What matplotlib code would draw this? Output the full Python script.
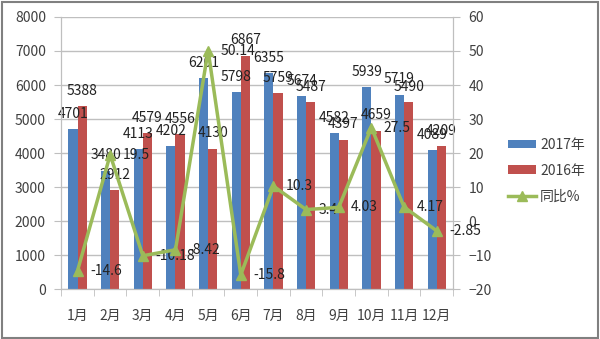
"""
plot.py - 2017 vs 2016 monthly figures with year-on-year change line.
"""
import numpy as np
import matplotlib
matplotlib.use("Agg")
import matplotlib.pyplot as plt
from matplotlib.patches import Rectangle

plt.rcParams['font.family'] = ['Noto Sans CJK SC', 'DejaVu Sans']

# ---- data ----
months = ["1月", "2月", "3月", "4月", "5月", "6月", "7月", "8月", "9月", "10月", "11月", "12月"]
y2017 = [4701, 3480, 4113, 4202, 6201, 5798, 6355, 5674, 4582, 5939, 5719, 4089]
y2016 = [5388, 2912, 4579, 4556, 4130, 6867, 5759, 5487, 4397, 4659, 5490, 4209]
yoy = [-14.6, 19.5, -10.18, -8.42, 50.14, -15.8, 10.3, 3.4, 4.03, 27.5, 4.17, -2.85]
yoy_labels = ["-14.6", "19.5", "-10.18", "-8.42", "50.14", "-15.8", "10.3", "3.4", "4.03", "27.5", "4.17", "-2.85"]

BLUE = "#4F81BD"
RED = "#C0504D"
GREEN = "#9BBB59"
GRID = "#BFBFBF"
TXT = "#404040"

fig = plt.figure(figsize=(6, 3.39), dpi=100)
ax1 = fig.add_axes([0.102, 0.147, 0.653, 0.803])
ax2 = ax1.twinx()

x = np.arange(len(months))
w = 0.28
b1 = ax1.bar(x - w / 2, y2017, w, color=BLUE, label="2017年", zorder=2)
b2 = ax1.bar(x + w / 2, y2016, w, color=RED, label="2016年", zorder=2)

for xi, v in zip(x - w / 2, y2017):
    ax1.annotate(str(v), (xi, v), xytext=(0, 11), textcoords="offset points",
                 ha="center", va="center", fontsize=10, color="#222222", zorder=5)
for xi, v in zip(x + w / 2, y2016):
    ax1.annotate(str(v), (xi, v), xytext=(0, 11), textcoords="offset points",
                 ha="center", va="center", fontsize=10, color="#222222", zorder=5)

ln, = ax2.plot(x, yoy, color=GREEN, lw=2.5, marker="^", ms=7, label="同比%", zorder=4)
for xi, v, s in zip(x, yoy, yoy_labels):
    ax2.annotate(s, (xi, v), xytext=(9, 0), textcoords="offset points",
                 ha="left", va="center", fontsize=10, color="#222222")

ax1.set_xlim(-0.5, len(months) - 0.5)
ax1.set_ylim(0, 8000)
ax1.set_yticks(range(0, 8001, 1000))
ax2.set_ylim(-20, 60)
ax2.set_yticks(range(-20, 61, 10))

ax1.yaxis.grid(True, color=GRID, lw=1, zorder=0)
ax1.set_axisbelow(True)

ax1.set_xticks(x)
ax1.set_xticklabels(months)
ax1.set_xticks(np.arange(-0.5, len(months), 1), minor=True)
ax1.tick_params(axis="x", which="major", length=0, pad=14, labelsize=10, labelcolor=TXT)
ax1.tick_params(axis="x", which="minor", length=5, color=GRID)
ax1.tick_params(axis="y", length=5, color=GRID, labelsize=10, labelcolor=TXT, pad=6)
ax2.tick_params(axis="y", length=5, color=GRID, labelsize=10, labelcolor=TXT, pad=6)

for ax in (ax1, ax2):
    ax.spines["top"].set_visible(False)
    for s in ("left", "right", "bottom"):
        ax.spines[s].set_color(GRID)

fig.legend(handles=[b1, b2, ln], loc="upper left", bbox_to_anchor=(0.826, 0.63),
           frameon=False, fontsize=10, handlelength=2.0, handleheight=0.6,
           labelspacing=0.85, handletextpad=0.3, labelcolor=TXT)

fig.patches.append(Rectangle((0.003, 0.004), 0.993, 0.99, transform=fig.transFigure,
                             fill=False, edgecolor="#808080", lw=1.5))

fig.savefig("out.png", dpi=100)
